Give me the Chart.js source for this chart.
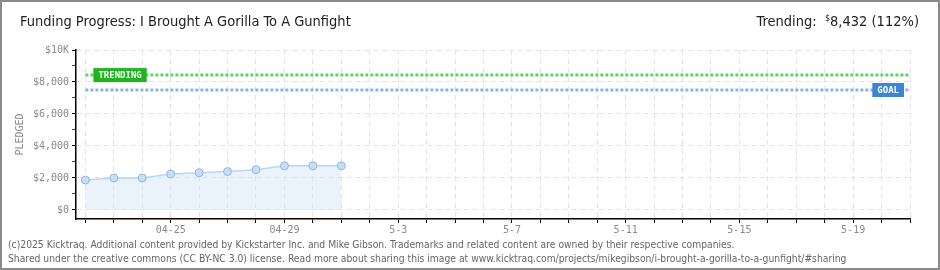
<!DOCTYPE html>
<html>
<head>
<meta charset="utf-8">
<script src="https://cdn.jsdelivr.net/npm/chart.js@4"></script>
<style>
  html, body { margin: 0; padding: 0; background: #fff; }
  #wrap { position: relative; width: 940px; height: 270px; overflow: hidden; }
  #frame { position: absolute; left: 0; top: 0; width: 936px; height: 266px; border: 2px solid #8a8a8a; }
  #title { position: absolute; left: 20px; top: 13px; font: 14.5px "Liberation Sans Narrow", "DejaVu Sans Condensed", sans-serif; color: #222; }
  #trend { position: absolute; right: 21px; top: 13px; font: 14.5px "Liberation Sans Narrow", "DejaVu Sans Condensed", sans-serif; color: #222; }
  #trend sup { font-size: 9px; vertical-align: 5px; }
  #foot { position: absolute; left: 8px; top: 237px; font: 10.25px "DejaVu Sans Condensed", sans-serif; color: #666; line-height: 14px; }
  canvas { position: absolute; left: 0; top: 0; }
</style>
</head>
<body>
<div id="wrap">
  <canvas id="chart" width="940" height="270"></canvas>
  <div id="frame"></div>
  <div id="title">Funding Progress: I Brought A Gorilla To A Gunfight</div>
  <div id="trend">Trending: &nbsp;<sup>$</sup>8,432 (112%)</div>
  <div id="foot">(c)2025 Kicktraq. Additional content provided by Kickstarter Inc. and Mike Gibson. Trademarks and related content are owned by their respective companies.<br>Shared under the creative commons (CC BY-NC 3.0) license. Read more about sharing this image at www.kicktraq.com/projects/mikegibson/i-brought-a-gorilla-to-a-gunfight/#sharing</div>
</div>
<script>
// one label per day, 04-22 .. 05-21
const dates = [
  "04-22", "04-23", "04-24", "04-25", "04-26", "04-27", "04-28", "04-29", "04-30",
  "5-1", "5-2", "5-3", "5-4", "5-5", "5-6", "5-7", "5-8", "5-9", "5-10", "5-11",
  "5-12", "5-13", "5-14", "5-15", "5-16", "5-17", "5-18", "5-19", "5-20", "5-21"
];
const pledged = [1870, 2000, 2000, 2250, 2330, 2400, 2520, 2760, 2760, 2760];
const trending = 8432;
const goal = 7500;
const yTicks = [0, 1000, 2000, 3000, 4000, 5000, 6000, 7000, 8000, 9000, 10000];

const tickFont = { family: "DejaVu Sans Mono", size: 10 };

const lineLabels = {
  id: "lineLabels",
  afterDatasetsDraw(chart) {
    const { ctx, scales: { x, y } } = chart;
    const box = (text, left, yv, bg) => {
      ctx.save();
      ctx.font = "bold 9px 'DejaVu Sans Mono'";
      const w = ctx.measureText(text).width + 10;
      const cy = y.getPixelForValue(yv);
      const lx = left === null ? x.getPixelForValue(dates.length - 1) - 6 - w : left;
      ctx.fillStyle = bg;
      ctx.fillRect(lx, cy - 7, w, 14);
      ctx.fillStyle = "#fff";
      ctx.textBaseline = "middle";
      ctx.fillText(text, lx + 5, cy + 1);
      ctx.restore();
    };
    box("TRENDING", x.getPixelForValue(0) + 8, trending, "#1fb51f");
    box("GOAL", null, goal, "#3a86d6");
  }
};

new Chart(document.getElementById("chart"), {
  type: "line",
  data: {
    datasets: [
      {
        label: "pledged",
        data: pledged.map((v, i) => ({ x: i, y: v })),
        borderColor: "#b9d6f4",
        borderWidth: 1.5,
        backgroundColor: "rgba(214,232,250,0.5)",
        fill: { value: 0 },
        pointRadius: 4,
        pointBackgroundColor: "#c6def8",
        pointBorderColor: "#93b6dc",
        pointBorderWidth: 1,
        tension: 0,
      },
      {
        label: "trending",
        data: [{ x: 0, y: trending }, { x: dates.length - 1, y: trending }],
        borderColor: "#63d063",
        borderWidth: 3,
        borderDash: [3, 2],
        pointRadius: 0,
        fill: false,
      },
      {
        label: "goal",
        data: [{ x: 0, y: goal }, { x: dates.length - 1, y: goal }],
        borderColor: "#8ab5e2",
        borderWidth: 3,
        borderDash: [3, 2],
        pointRadius: 0,
        fill: false,
      },
    ],
  },
  options: {
    responsive: false,
    animation: false,
    layout: { padding: { left: 0, right: 30, top: 50, bottom: 0 } },
    plugins: { legend: { display: false }, tooltip: { enabled: false } },
    scales: {
      x: {
        type: "linear",
        min: -0.33,
        max: dates.length - 1,
        afterBuildTicks: (s) => { s.ticks = dates.map((d, i) => ({ value: i })); },
        afterFit: (s) => { s.height = 51; },
        ticks: {
          autoSkip: false,
          maxRotation: 0,
          color: "#8a8a8a",
          font: tickFont,
          padding: 1,
          callback: (v) => ((v - 3) % 4 === 0 ? dates[v] : ""),
        },
        grid: {
          color: "#e3e3e3",
          tickColor: "#000",
          tickLength: 4,
          lineWidth: 1,
        },
        border: { color: "#000", width: 1.5, dash: [5, 4] },
      },
      y: {
        min: -565,
        max: 10000,
        afterBuildTicks: (s) => { s.ticks = yTicks.map((v) => ({ value: v })); },
        afterFit: (s) => { s.width = 76; },
        title: {
          display: true,
          text: "PLEDGED",
          color: "#8a8a8a",
          font: { family: "DejaVu Sans Mono", size: 10 },
          padding: { top: 14, bottom: 0 },
        },
        ticks: {
          color: "#8a8a8a",
          font: tickFont,
          padding: 3,
          callback: (v) => {
            if (v % 2000 !== 0) return "";
            if (v === 10000) return "$10K";
            return "$" + v.toLocaleString("en-US");
          },
        },
        grid: {
          color: (c) => (c.tick && c.tick.value % 2000 === 0 ? "#e3e3e3" : "rgba(0,0,0,0)"),
          tickColor: (c) => (c.tick && c.tick.value % 2000 === 0 ? "#000" : "#e00000"),
          tickLength: 4,
          lineWidth: 1,
        },
        border: { color: "#000", width: 1.5, dash: [5, 4] },
      },
    },
  },
  plugins: [lineLabels],
});
</script>
</body>
</html>
